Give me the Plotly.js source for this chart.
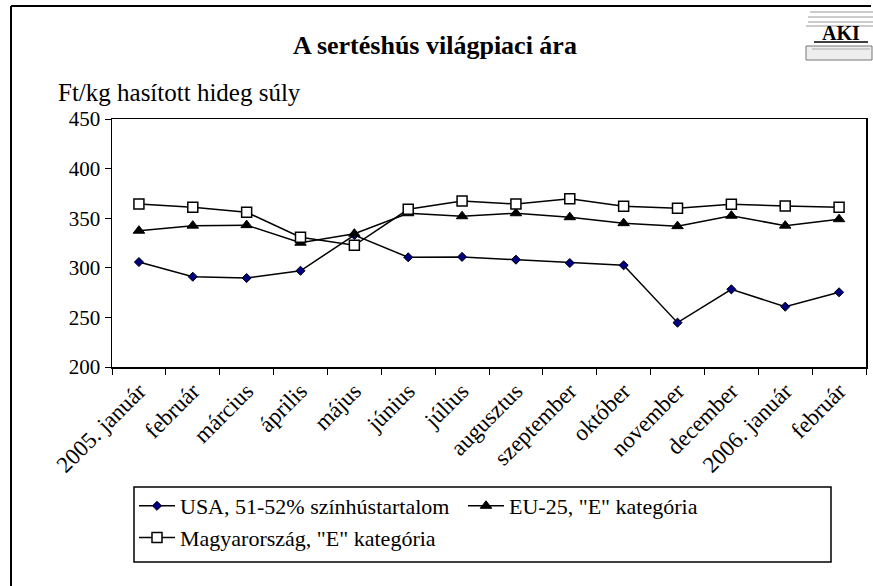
<!DOCTYPE html>
<html>
<head>
<meta charset="utf-8">
<script src="https://cdn.plot.ly/plotly-3.0.1.min.js"></script>
<style>html,body{margin:0;padding:0;background:#fff;}#chart{width:873px;height:586px;}</style>
</head>
<body>
<div id="chart"></div>
<script>
const months = ["2005. január","február","március","április","május","június","július","augusztus","szeptember","október","november","december","2006. január","február"];
const usa = [305.8, 291, 289.7, 297, 333, 310.6, 311, 308.2, 304.8, 302.5, 244.7, 278.3, 260.8, 275.3];
const eu = [337.4, 342.5, 343, 325.3, 334.4, 355, 352, 355, 351, 345, 342, 352.5, 342.5, 349];
const hu = [364.3, 361, 356, 330.8, 322.7, 359, 367.3, 364.3, 369.7, 362, 360, 364, 362.3, 361];
const seriesNames = ["USA, 51-52% színhústartalom", "EU-25, \"E\" kategória", "Magyarország, \"E\" kategória"];

const W = 873, H = 586;
const L = 112, R = 866, T = 119, B = 367;
const px = x => (x - L) / (R - L);
const py = y => (B - y) / (B - T);
const FONT = "Liberation Serif";

const keys = months.map((m, i) => i);

const traces = [
  {x: keys, y: usa, name: seriesNames[0], type: "scatter", mode: "lines+markers",
   line: {color: "#000", width: 1.5},
   marker: {symbol: "diamond", size: 7, color: "#000080", line: {color: "#000", width: 1}}},
  {x: keys, y: eu, name: seriesNames[1], type: "scatter", mode: "lines+markers",
   line: {color: "#000", width: 1.5},
   marker: {symbol: "triangle-up", size: 10, color: "#000", line: {color: "#000", width: 1}}},
  {x: keys, y: hu, name: seriesNames[2], type: "scatter", mode: "lines+markers",
   line: {color: "#000", width: 1.5},
   marker: {symbol: "square", size: 10, color: "#fff", line: {color: "#000", width: 1.5}}}
];

const shapes = [
  // outer frame (left + top)
  {type: "line", xref: "paper", yref: "paper", x0: px(11), x1: px(11), y0: py(6), y1: py(590), line: {color: "#000", width: 2}},
  {type: "line", xref: "paper", yref: "paper", x0: px(11), x1: px(871), y0: py(6), y1: py(6), line: {color: "#000", width: 2}},
  // legend frame
  {type: "rect", xref: "paper", yref: "paper", x0: px(134), x1: px(831), y0: py(487), y1: py(562), line: {color: "#000", width: 1.5}},
  // logo
  {type: "line", xref: "paper", yref: "paper", x0: px(810), x1: px(873), y0: py(12), y1: py(12), line: {color: "#999", width: 1}},
  {type: "line", xref: "paper", yref: "paper", x0: px(808), x1: px(873), y0: py(17), y1: py(17), line: {color: "#999", width: 1}},
  {type: "line", xref: "paper", yref: "paper", x0: px(808), x1: px(873), y0: py(22), y1: py(22), line: {color: "#999", width: 1}},
  {type: "line", xref: "paper", yref: "paper", x0: px(806), x1: px(873), y0: py(26), y1: py(26), line: {color: "#999", width: 1}},
  {type: "line", xref: "paper", yref: "paper", x0: px(814), x1: px(868), y0: py(42), y1: py(42), line: {color: "#000", width: 1.5}},
  {type: "rect", xref: "paper", yref: "paper", x0: px(806), x1: px(872), y0: py(46), y1: py(60), line: {color: "#777", width: 1}, fillcolor: "#eee"},
  {type: "line", xref: "paper", yref: "paper", x0: px(812), x1: px(870), y0: py(49), y1: py(49), line: {color: "#aaa", width: 1}}
];

const annotations = [
  {text: "Ft/kg hasított hideg súly", xref: "paper", yref: "paper", x: px(56), y: py(92),
   xanchor: "left", yanchor: "middle", showarrow: false, font: {family: FONT, size: 25, color: "#000"}},
  {text: "<b>AKI</b>", xref: "paper", yref: "paper", x: px(841), y: py(33),
   xanchor: "center", yanchor: "middle", showarrow: false, font: {family: FONT, size: 20, color: "#000"}}
];

const layout = {
  width: W, height: H,
  margin: {l: L, r: W - R, t: T, b: H - B},
  paper_bgcolor: "#fff", plot_bgcolor: "#fff",
  title: {text: "<b>A sertéshús világpiaci ára</b>", xref: "container", yref: "container",
          x: 435 / W, y: 1 - 45 / H, xanchor: "center", yanchor: "middle",
          font: {family: FONT, size: 26, color: "#000"}},
  font: {family: FONT, size: 20, color: "#000"},
  xaxis: {type: "linear", range: [-0.5, 13.5], tickmode: "array", tickvals: keys, ticktext: months,
          tickangle: -45, showline: true, linecolor: "#000", linewidth: 1.5, mirror: true,
          ticks: "", showgrid: false, zeroline: false, fixedrange: true,
          tickfont: {family: FONT, size: 23, color: "#000"},
          minor: {tickmode: "array", tickvals: months.map((m, i) => i - 0.5).concat([13.5]),
                  ticks: "outside", ticklen: 6, tickcolor: "#000", showgrid: false}},
  yaxis: {range: [200, 450], dtick: 50, tick0: 200, ticks: "outside", ticklen: 6, tickcolor: "#000",
          showline: true, linecolor: "#000", linewidth: 1.5, mirror: true, showgrid: false,
          zeroline: false, tickfont: {family: FONT, size: 21, color: "#000"}},
  showlegend: true,
  legend: {orientation: "h", x: px(134), y: py(485), xanchor: "left", yanchor: "top",
           borderwidth: 0, bgcolor: "rgba(0,0,0,0)",
           font: {family: FONT, size: 22, color: "#000"},
           itemwidth: 36, entrywidth: 278, entrywidthmode: "pixels"},
  shapes: shapes,
  annotations: annotations
};

Plotly.newPlot("chart", traces, layout, {displayModeBar: false, staticPlot: true});
</script>
</body>
</html>
